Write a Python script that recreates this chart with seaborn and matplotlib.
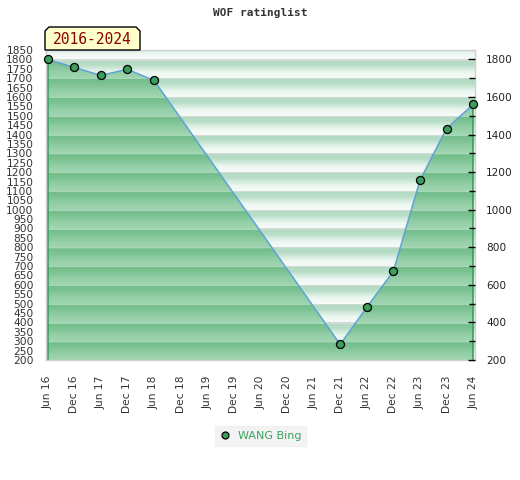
import numpy as np
import pandas as pd
import matplotlib
matplotlib.use("Agg")
import matplotlib.pyplot as plt
import seaborn as sns
from matplotlib.colors import LinearSegmentedColormap
from matplotlib.lines import Line2D
from matplotlib.patches import Polygon

# data (half-year index from Jun 16)
tick_labels = ["Jun 16", "Dec 16", "Jun 17", "Dec 17", "Jun 18", "Dec 18",
               "Jun 19", "Dec 19", "Jun 20", "Dec 20", "Jun 21", "Dec 21",
               "Jun 22", "Dec 22", "Jun 23", "Dec 23", "Jun 24"]
period_idx = [0, 1, 2, 3, 4, 11, 12, 13, 14, 15, 16]
rating = [1800, 1757, 1715, 1747, 1688, 283, 480, 672, 1156, 1432, 1560]
player = "WANG Bing"
title = "WOF ratinglist"
range_label = "2016-2024"

df = pd.DataFrame({"x": period_idx, "rating": rating})

sns.set_theme(style="white")
plt.rcParams["font.family"] = ["DejaVu Sans"]

fig = plt.figure(figsize=(5.2, 4.8), dpi=100)
ax = fig.add_axes([46 / 520, 1 - 360 / 480, 429 / 520, 310 / 480])

ymin, ymax = 200, 1850
xmin, xmax = -0.06, 16.07

# striped gradient backgrounds, one stripe per 100 rating points
def stripe_image(stops):
    cmap = LinearSegmentedColormap.from_list("s", stops)
    vals = np.arange(ymax, ymin, -1.0)
    t = 1 - ((vals - 1) % 100) / 100.0
    return cmap(t)[:, None, :]

bg_stops = [(0.0, "#d2dad5"), (0.06, "#d2dad5"), (0.07, "#b2dbc2"),
            (0.3, "#b8ddc7"), (0.52, "#d5ecdf"), (0.72, "#eef7f2"), (1.0, "#f6fbf8")]
fill_stops = [(0.0, "#a6d7b6"), (0.06, "#a6d7b6"), (0.07, "#74bd8b"),
              (0.3, "#7bc292"), (0.6, "#90cda4"), (1.0, "#a0d5b1")]

ax.imshow(stripe_image(bg_stops), extent=[xmin, xmax, ymin, ymax],
          aspect="auto", interpolation="nearest", zorder=0)
poly = ax.fill_between(df["x"], df["rating"], ymin, color="none", zorder=1)
fill_im = ax.imshow(stripe_image(fill_stops), extent=[xmin, xmax, ymin, ymax],
                    aspect="auto", interpolation="nearest", zorder=1)
fill_im.set_clip_path(poly.get_paths()[0], transform=ax.transData)

# green edges of the filled area
ax.vlines([df["x"].iloc[0], df["x"].iloc[-1]], ymin,
          [df["rating"].iloc[0], df["rating"].iloc[-1]],
          color="#3c9e5c", lw=1.2, zorder=2)

sns.lineplot(data=df, x="x", y="rating", ax=ax, color="#5ea3d6", lw=1.1,
             marker="o", markersize=5.8, markerfacecolor="#3a9e5c",
             markeredgecolor="black", markeredgewidth=0.9, zorder=3,
             clip_on=False)

ax.set_xlim(xmin, xmax)
ax.set_ylim(ymin, ymax)
ax.set_xlabel("")
ax.set_ylabel("")
ax.set_xticks(range(len(tick_labels)))
ax.set_xticklabels(tick_labels, rotation=90, fontsize=7.7, color="#333333")
ax.set_yticks(np.arange(200, 1851, 50))
ax.tick_params(axis="y", length=0, pad=9, labelsize=7.7, labelcolor="#333333")
ax.tick_params(axis="x", length=0, pad=11)
for s in ax.spines.values():
    s.set_color("#d0d0d0")
    s.set_linewidth(1)

ax2 = ax.twinx()
ax2.set_ylim(ymin, ymax)
ax2.set_yticks(np.arange(200, 1801, 200))
ax2.set_yticks(np.arange(300, 1801, 200), minor=True)
ax2.tick_params(axis="y", which="major", direction="in", length=5, width=1,
                color="black", labelsize=7.6, labelcolor="#222222", pad=8)
ax2.tick_params(axis="y", which="minor", direction="in", length=4, width=1,
                color="black", right=True)
for s in ax2.spines.values():
    s.set_visible(False)

fig.text(260 / 520, 1 - 13 / 480, title, ha="center", va="center",
         family="DejaVu Sans Mono", weight="bold", fontsize=8, color="#333333")

# range label box with chamfered top corners
W, H = 520, 480
box = [(45, 50), (45, 31), (49, 27), (136, 27), (140, 31), (140, 50)]
fig.patches.append(Polygon([(px / W, 1 - py / H) for px, py in box],
                           closed=True, transform=fig.transFigure,
                           facecolor="#ffffcc", edgecolor="black", lw=1))
fig.text(92.5 / 520, 1 - 39.5 / 480, range_label, ha="center", va="center",
         family="DejaVu Sans Mono", fontsize=10.5, color="#8b0000")

handle = Line2D([], [], ls="none", marker="o", markersize=5,
                markerfacecolor="#3a9e5c", markeredgecolor="black",
                markeredgewidth=0.9)
leg = fig.legend([handle], [player], loc="center", bbox_to_anchor=(260.5 / 520, 1 - 436 / 480),
                 frameon=True, fancybox=False, fontsize=8, handlelength=1.0,
                 handletextpad=0.6, borderpad=0.45, borderaxespad=0)
leg.get_frame().set_facecolor("#f0f0f0")
leg.get_frame().set_edgecolor("#f0f0f0")
for t in leg.get_texts():
    t.set_color("#3aa35a")

fig.savefig("out.png", dpi=100)
